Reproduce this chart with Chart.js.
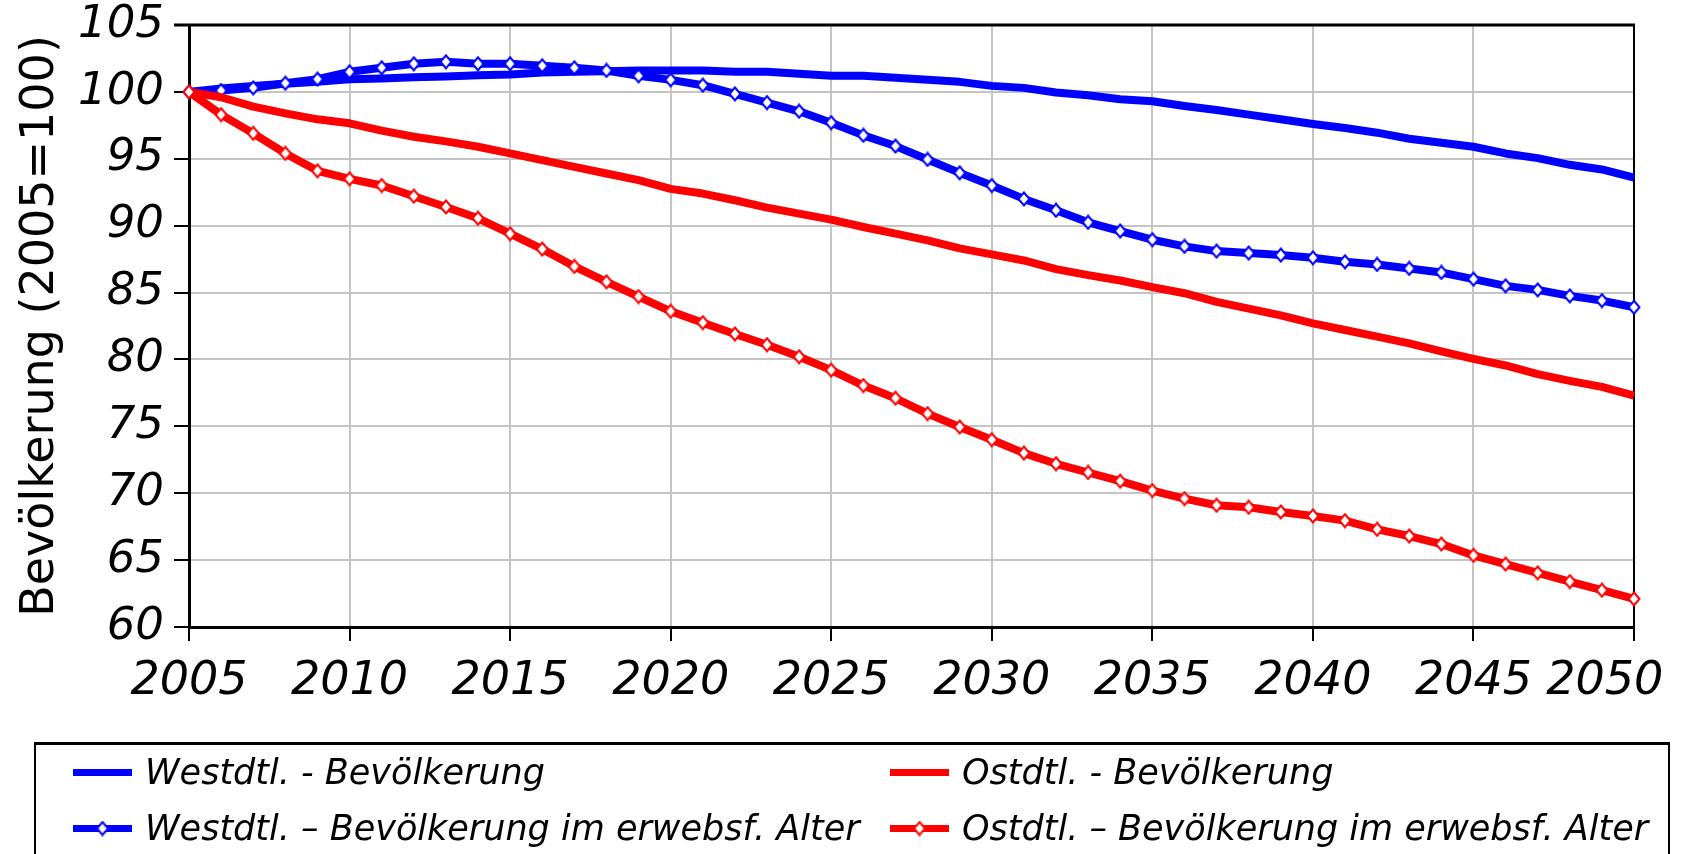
<!DOCTYPE html>
<html lang="de">
<head>
<meta charset="utf-8">
<title>Bevölkerung West/Ost 2005-2050</title>
<script src="https://cdn.jsdelivr.net/npm/chart.js@4.4.1/dist/chart.umd.min.js"></script>
<style>
    html, body { margin: 0; padding: 0; background: #fff; }
    body { width: 1691px; height: 854px; overflow: hidden; position: relative; font-family: 'DejaVu Sans', sans-serif; }
    #chart { position: absolute; left: 0; top: 0; }
    #legend {
        position: absolute; left: 34px; top: 742px; width: 1595px; height: 140px;
        border: 2px solid #000; border-top-width: 3px;
        box-sizing: content-box;
        display: grid; grid-auto-flow: column;
        grid-template-rows: 56px 56px; grid-template-columns: 817px auto;
        padding-left: 37px;
    }
    .legend-item { display: flex; align-items: center; font-style: italic; font-size: 35px; color: #000; white-space: nowrap; margin-top: -2px; }
    .legend-item canvas { margin-right: 13px; }
</style>
</head>
<body>
<canvas id="chart" width="1691" height="740"></canvas>
<div id="legend"></div>
<script>
// Years on the x axis
const years = [2005, 2006, 2007, 2008, 2009, 2010, 2011, 2012, 2013, 2014,
               2015, 2016, 2017, 2018, 2019, 2020, 2021, 2022, 2023, 2024,
               2025, 2026, 2027, 2028, 2029, 2030, 2031, 2032, 2033, 2034,
               2035, 2036, 2037, 2038, 2039, 2040, 2041, 2042, 2043, 2044,
               2045, 2046, 2047, 2048, 2049, 2050];

// Index values (2005 = 100)
const westTotal = [100, 100.25, 100.45, 100.6, 100.75, 100.95, 101.0, 101.1, 101.15, 101.25,
                   101.3, 101.45, 101.5, 101.55, 101.6, 101.6, 101.6, 101.5, 101.5, 101.35,
                   101.2, 101.2, 101.05, 100.9, 100.75, 100.45, 100.3, 99.95, 99.75, 99.45,
                   99.3, 98.95, 98.65, 98.3, 97.95, 97.6, 97.3, 96.95, 96.5, 96.2,
                   95.9, 95.4, 95.05, 94.55, 94.2, 93.6];

const westWorking = [100, 100.1, 100.3, 100.65, 100.95, 101.5, 101.8, 102.1, 102.25, 102.1,
                     102.1, 101.95, 101.8, 101.6, 101.2, 100.9, 100.5, 99.85, 99.2, 98.55,
                     97.7, 96.75, 95.95, 94.95, 93.95, 93.0, 92.0, 91.15, 90.25, 89.6,
                     88.95, 88.45, 88.1, 87.95, 87.8, 87.6, 87.3, 87.1, 86.8, 86.5,
                     86.0, 85.5, 85.2, 84.75, 84.4, 83.9];

const eastTotal = [100, 99.6, 98.9, 98.4, 97.95, 97.65, 97.1, 96.65, 96.3, 95.9,
                   95.4, 94.9, 94.4, 93.9, 93.4, 92.75, 92.4, 91.9, 91.35, 90.9,
                   90.45, 89.9, 89.4, 88.9, 88.3, 87.85, 87.4, 86.75, 86.3, 85.9,
                   85.4, 84.95, 84.3, 83.8, 83.3, 82.7, 82.2, 81.7, 81.2, 80.6,
                   80.05, 79.55, 78.9, 78.4, 77.95, 77.3];

const eastWorking = [100, 98.3, 96.9, 95.4, 94.1, 93.5, 93.0, 92.2, 91.4, 90.55,
                     89.4, 88.25, 86.95, 85.8, 84.7, 83.6, 82.75, 81.9, 81.1, 80.2,
                     79.2, 78.05, 77.1, 75.95, 74.95, 74.0, 73.0, 72.2, 71.55, 70.9,
                     70.2, 69.6, 69.1, 68.95, 68.6, 68.3, 67.95, 67.3, 66.8, 66.2,
                     65.35, 64.7, 64.05, 63.4, 62.75, 62.1];

// Axis tick labels
const xTickLabels = ['2005', '2010', '2015', '2020', '2025', '2030', '2035', '2040', '2045', '2050'];
const yAxisTitle = 'Bevölkerung (2005=100)';

const BLUE = '#0000ff';
const RED = '#ff0000';

// White diamond used as point marker
function makeDiamond(color) {
    const c = document.createElement('canvas');
    c.width = 14;
    c.height = 16;
    const g = c.getContext('2d');
    g.beginPath();
    g.moveTo(7, 1.5);
    g.lineTo(12.5, 8);
    g.lineTo(7, 14.5);
    g.lineTo(1.5, 8);
    g.closePath();
    g.fillStyle = '#fff';
    g.fill();
    g.lineWidth = 2;
    g.strokeStyle = color;
    g.stroke();
    return c;
}

function toPoints(values) {
    return years.map((yr, i) => ({ x: yr, y: values[i] }));
}

function makeDataset(label, values, color, withMarkers, order) {
    return {
        label: label,
        data: toPoints(values),
        borderColor: color,
        backgroundColor: color,
        borderWidth: 8,
        tension: 0,
        borderJoinStyle: 'round',
        pointRadius: withMarkers ? 5 : 0,
        pointStyle: withMarkers ? makeDiamond(color) : 'circle',
        clip: false,
        order: order
    };
}

// Top and right frame lines of the plot area
const frameBorder = {
    id: 'frameBorder',
    beforeDatasetsDraw(chart) {
        const { ctx, chartArea: a } = chart;
        ctx.save();
        ctx.strokeStyle = '#000';
        ctx.lineWidth = 3;
        ctx.beginPath();
        ctx.moveTo(a.left - 15, a.top);
        ctx.lineTo(a.right + 1, a.top);
        ctx.stroke();
        ctx.lineWidth = 2;
        ctx.beginPath();
        ctx.moveTo(a.right, a.top);
        ctx.lineTo(a.right, a.bottom);
        ctx.stroke();
        ctx.restore();
    }
};

Chart.defaults.font.family = "'DejaVu Sans', sans-serif";
Chart.defaults.color = '#000';

const chart = new Chart(document.getElementById('chart'), {
    type: 'line',
    data: {
        datasets: [
            makeDataset('Westdtl. - Bevölkerung', westTotal, BLUE, false, 3),
            makeDataset('Westdtl. \u2013 Bevölkerung im erwebsf. Alter', westWorking, BLUE, true, 2),
            makeDataset('Ostdtl. - Bevölkerung', eastTotal, RED, false, 1),
            makeDataset('Ostdtl. \u2013 Bevölkerung im erwebsf. Alter', eastWorking, RED, true, 0)
        ]
    },
    options: {
        responsive: false,
        animation: false,
        layout: { padding: { left: 0, top: 25, right: 57, bottom: 0 } },
        plugins: {
            legend: { display: false },
            tooltip: { enabled: false }
        },
        scales: {
            x: {
                type: 'linear',
                min: 2005,
                max: 2050,
                grid: {
                    color: '#c4c4c4',
                    lineWidth: 2,
                    tickColor: '#000',
                    tickLength: 14,
                    tickWidth: 2
                },
                border: { color: '#000', width: 3 },
                ticks: {
                    stepSize: 5,
                    autoSkip: false,
                    maxRotation: 0,
                    padding: 13,
                    font: { size: 46, style: 'italic' },
                    callback: function(value, index, ticks) {
                        // last label sits a bit left of its tick, as in the original
                        if (index === ticks.length - 1) return xTickLabels[index] + '    ';
                        return xTickLabels[index];
                    }
                },
                afterFit: function(scale) {
                    scale.height = 113;
                    scale.paddingRight = 0;
                    scale.paddingLeft = 0;
                }
            },
            y: {
                min: 60,
                max: 105,
                grid: {
                    color: '#c4c4c4',
                    lineWidth: 2,
                    tickColor: '#000',
                    tickLength: 15,
                    tickWidth: 2
                },
                border: { color: '#000', width: 3 },
                ticks: {
                    stepSize: 5,
                    padding: 10,
                    font: { size: 45, style: 'italic' }
                },
                title: {
                    display: true,
                    text: yAxisTitle,
                    font: { size: 46, lineHeight: 1 },
                    padding: { top: 18, bottom: 0 }
                },
                afterFit: function(scale) {
                    scale.width = 189;
                    scale.paddingTop = 0;
                    scale.paddingBottom = 0;
                }
            }
        }
    },
    plugins: [frameBorder]
});

// Legend drawn as HTML below the chart, two columns
function buildLegend(chart) {
    const box = document.getElementById('legend');
    chart.data.datasets.forEach(ds => {
        const item = document.createElement('div');
        item.className = 'legend-item';

        const marker = document.createElement('canvas');
        marker.width = 59;
        marker.height = 17;
        const g = marker.getContext('2d');
        g.fillStyle = ds.borderColor;
        g.fillRect(0, 5, 59, 7);
        if (ds.pointRadius > 0) {
            const d = ds.pointStyle;
            g.drawImage(d, 29.5 - d.width / 2, 8.5 - d.height / 2);
        }
        item.appendChild(marker);

        const text = document.createElement('span');
        text.textContent = ds.label;
        item.appendChild(text);
        box.appendChild(item);
    });
}

buildLegend(chart);
</script>
</body>
</html>
